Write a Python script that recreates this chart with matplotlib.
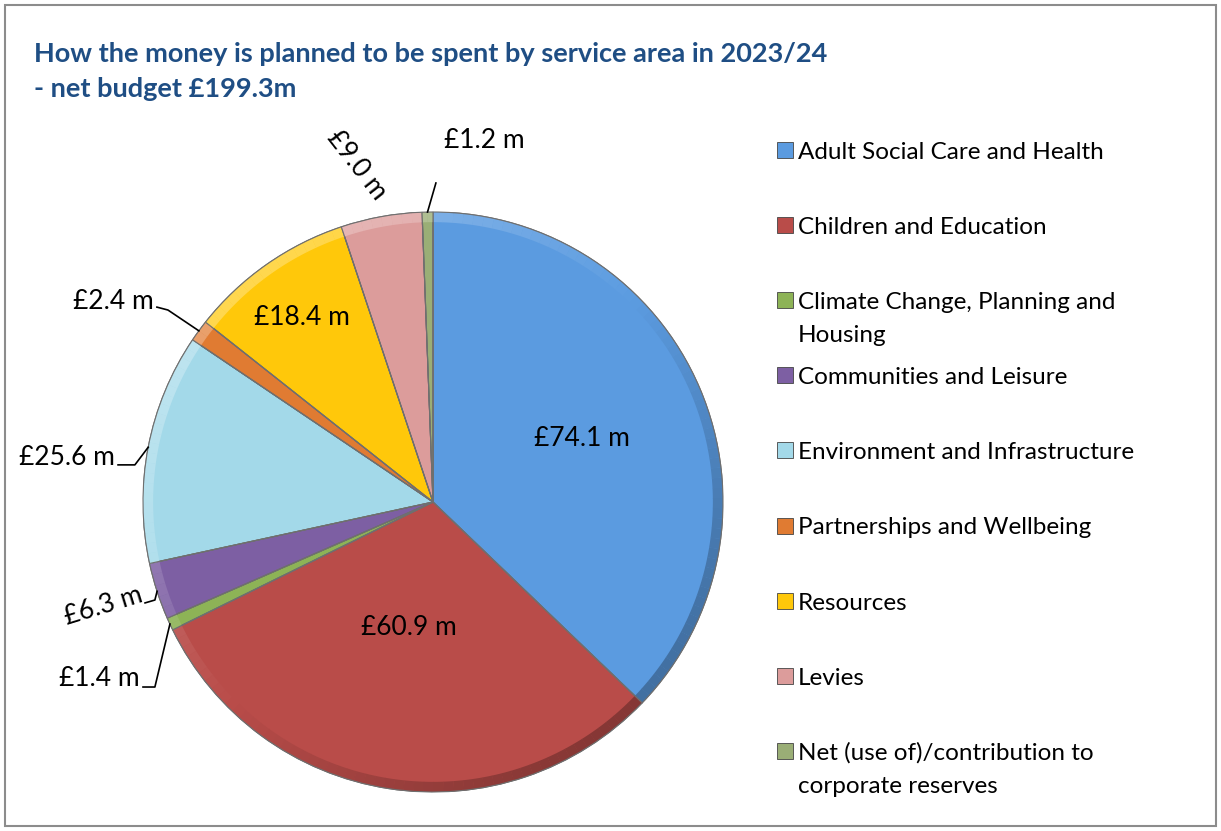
import numpy as np
import matplotlib.pyplot as plt
from matplotlib.patches import Rectangle, Wedge
from matplotlib.colors import to_rgb

plt.rcParams['font.family'] = ['Lato', 'DejaVu Sans']

# data (net budget 2023/24, £m)
categories = ["Adult Social Care and Health", "Children and Education",
              "Climate Change, Planning and\nHousing", "Communities and Leisure",
              "Environment and Infrastructure", "Partnerships and Wellbeing",
              "Resources", "Levies", "Net (use of)/contribution to\ncorporate reserves"]
values = [74.1, 60.9, 1.4, 6.3, 25.6, 2.4, 18.4, 9.0, 1.2]
labels = ["£74.1 m", "£60.9 m", "£1.4 m", "£6.3 m", "£25.6 m",
          "£2.4 m", "£18.4 m", "£9.0 m", "£1.2 m"]
colors = ["#5b9be0", "#b94c49", "#8db356", "#7d5fa3", "#a3d9e9",
          "#e07b32", "#ffc80a", "#dc9c9b", "#9aae76"]

W, H = 1221, 831
fig = plt.figure(figsize=(W / 100, H / 100), dpi=100)

# pie axes: centre (433, 502) px, radius 290 px
cx, cy, r = 433, 502, 290
ax = fig.add_axes([(cx - r) / W, (H - cy - r) / H, 2 * r / W, 2 * r / H])
wedges, _ = ax.pie(values, colors=colors, startangle=90, counterclock=False,
                   radius=1.0, wedgeprops=dict(edgecolor="#6f6f6f", linewidth=0.8))
ax.set_xlim(-1, 1)
ax.set_ylim(-1, 1)
ax.set_aspect('equal')
ax.axis('off')


def shade(col, f):
    c = np.array(to_rgb(col))
    return tuple(c + (1 - c) * f) if f > 0 else tuple(c * (1 + f))


# bevelled rim: light towards the upper left, dark towards the lower right
for w, col in zip(wedges, colors):
    t1, t2 = min(w.theta1, w.theta2), max(w.theta1, w.theta2)
    steps = max(2, int((t2 - t1) / 2))
    edges = np.linspace(t1, t2, steps + 1)
    for a0, a1 in zip(edges[:-1], edges[1:]):
        f = 0.28 * np.cos(np.deg2rad((a0 + a1) / 2 - 135))
        ax.add_patch(Wedge((0, 0), 1.0, a0, a1 + 0.05, width=0.035,
                           facecolor=shade(col, f), edgecolor='none'))
    ax.add_patch(Wedge((0, 0), 1.0, t1, t2, fill=False, edgecolor='#6f6f6f', lw=0.8))

LBL = 19

# labels inside / free-standing: (radius, angle shift, rotation)
free = {0: (0.56, 0.0, 0), 1: (0.44, -2.0, 0), 6: (0.78, 0.5, 0), 7: (1.19, 2.5, -52)}
for i, (rad, shift, rot) in free.items():
    w = wedges[i]
    a = np.deg2rad((w.theta1 + w.theta2) / 2 + shift)
    ax.text(rad * np.cos(a), rad * np.sin(a), labels[i], ha='center', va='center',
            fontsize=LBL, rotation=rot, rotation_mode='anchor', clip_on=False)

# labels with leader lines: line start, elbow (data units), text rotation, text lift
leaders = {
    5: ((-0.952, 0.672), (-0.914, 0.662), 0, 0.018),
    4: ((-1.086, 0.128), (-1.028, 0.128), 0, 0.025),
    3: ((-0.993, -0.348), (-0.959, -0.338), 17, 0.03),
    2: ((-1.000, -0.638), (-0.959, -0.638), 0, 0.028),
}
for i, (start, elbow, rot, lift) in leaders.items():
    w = wedges[i]
    m = np.deg2rad((w.theta1 + w.theta2) / 2)
    ex, ey = np.cos(m), np.sin(m)
    ax.plot([start[0], elbow[0], ex], [start[1], elbow[1], ey], color='black',
            lw=1.2, clip_on=False)
    ax.text(start[0] - 0.012, start[1] + lift, labels[i], ha='right', va='center',
            fontsize=LBL, rotation=rot, rotation_mode='anchor', clip_on=False)

# net reserves label above the pie
w = wedges[8]
m = np.deg2rad((w.theta1 + w.theta2) / 2)
ax.plot([np.cos(m), 0.010], [np.sin(m), 1.10], color='black', lw=1.2, clip_on=False)
ax.text(0.176, 1.245, labels[8], ha='center', va='center', fontsize=LBL, clip_on=False)

# title
title = ["How the money is planned to be spent by service area in 2023/24",
         "- net budget £199.3m"]
for k, line in enumerate(title):
    fig.text(34 / W, 1 - (62 + 35 * k) / H, line, ha='left', va='baseline',
             fontsize=19.5, fontweight='bold', color='#1f4e84')

# legend, drawn by hand
for i, (cat, col) in enumerate(zip(categories, colors)):
    yc = 150 + 75.1 * i
    fig.patches.append(Rectangle((777 / W, 1 - (yc + 8) / H), 16 / W, 16 / H,
                                 transform=fig.transFigure, facecolor=col,
                                 edgecolor='#444444', linewidth=0.6))
    for k, line in enumerate(cat.split("\n")):
        fig.text(798 / W, 1 - (yc + 9 + 33 * k) / H, line, ha='left',
                 va='baseline', fontsize=17.5)

# outer border
fig.patches.append(Rectangle((5 / W, 5 / H), (W - 10) / W, (H - 10) / H,
                             transform=fig.transFigure, fill=False,
                             edgecolor='#8c8c8c', linewidth=1.5))

fig.savefig("out.png", dpi=100)
